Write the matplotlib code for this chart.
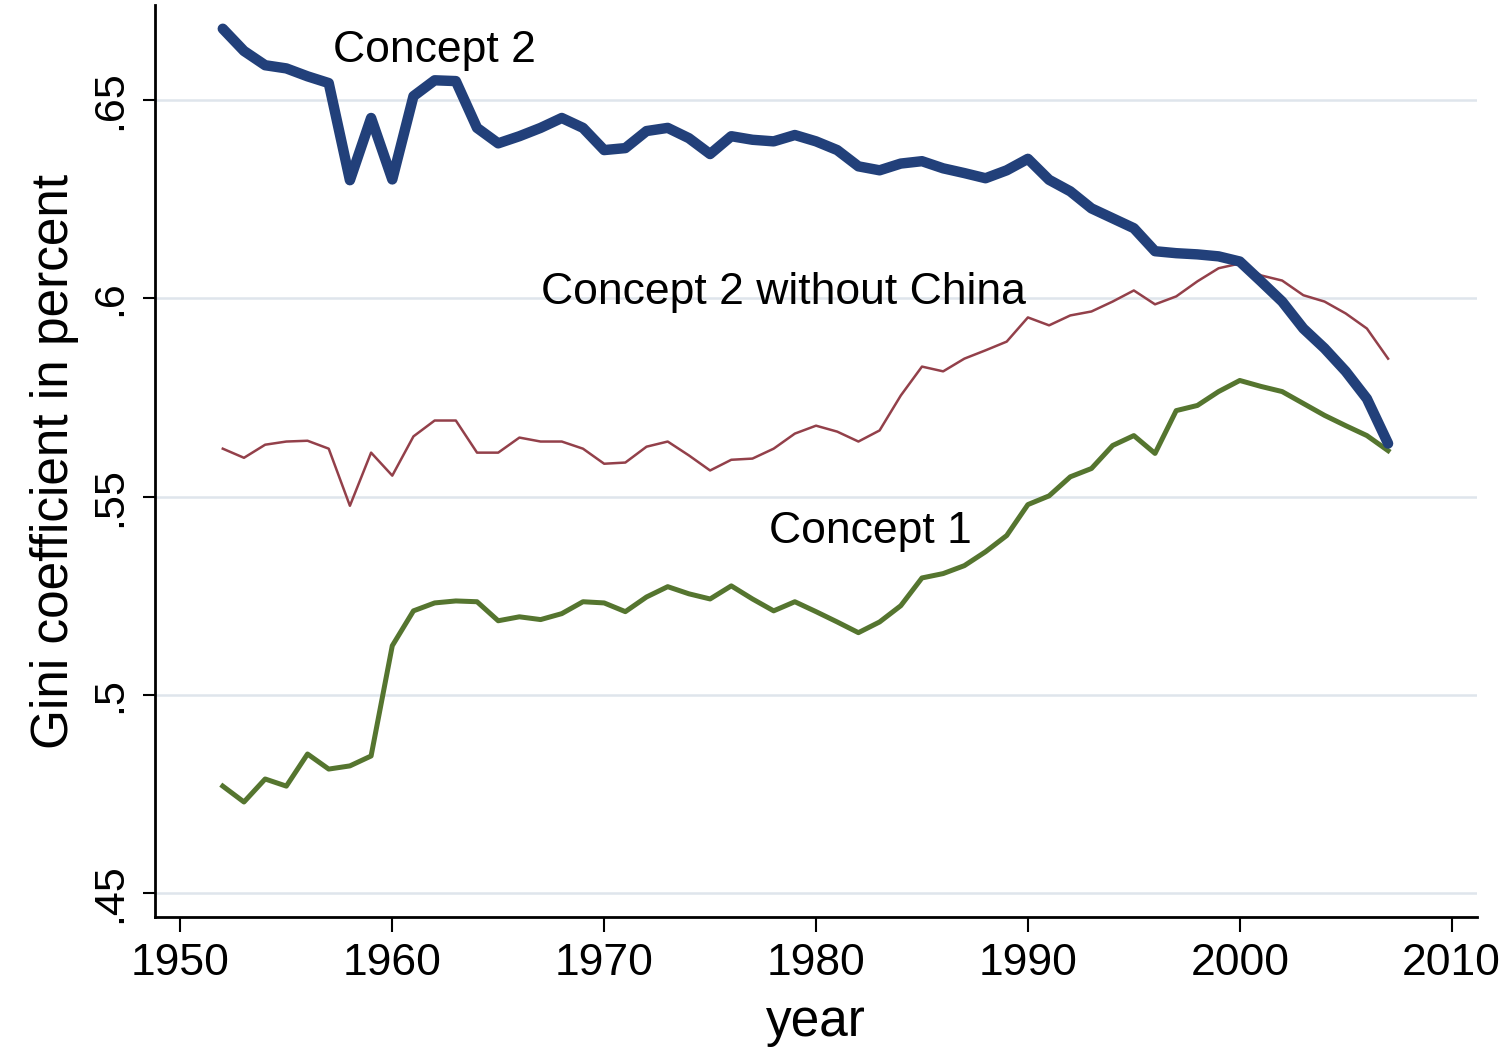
import matplotlib
matplotlib.use("Agg")
import matplotlib.pyplot as plt

years = list(range(1952, 2008))

# Concept 2 (thick navy line)
concept2 = [0.668, 0.6624, 0.6588, 0.658, 0.656, 0.6543, 0.6298, 0.6455, 0.630, 0.651,
            0.655, 0.6548, 0.643, 0.6391, 0.6409, 0.643, 0.6455, 0.643, 0.6374, 0.6379,
            0.6422, 0.643, 0.6404, 0.6364, 0.6409, 0.640, 0.6396, 0.6412, 0.6396, 0.6374,
            0.6333, 0.6323, 0.634, 0.6346, 0.6328, 0.6316, 0.6303, 0.6323, 0.6352, 0.6299,
            0.627, 0.6227, 0.6202, 0.6177, 0.6119, 0.6114, 0.6111, 0.6106, 0.6093, 0.6043,
            0.5992, 0.5924, 0.5874, 0.5816, 0.5747, 0.5634]

# Concept 2 without China (thin maroon line)
concept2_no_china = [0.5621, 0.5598, 0.5631, 0.5639, 0.5641, 0.5621, 0.5477, 0.5611, 0.5553, 0.5652,
                     0.5692, 0.5692, 0.5611, 0.5611, 0.5649, 0.5639, 0.5639, 0.5621, 0.5583, 0.5586,
                     0.5626, 0.5639, 0.5604, 0.5566, 0.5593, 0.5596, 0.5621, 0.5659, 0.5679, 0.5664,
                     0.5639, 0.5667, 0.5755, 0.5828, 0.5816, 0.5848, 0.5869, 0.5891, 0.5952, 0.5932,
                     0.5957, 0.5967, 0.5992, 0.602, 0.5985, 0.6005, 0.6043, 0.6076, 0.6088, 0.6058,
                     0.6045, 0.6008, 0.5992, 0.5962, 0.5924, 0.5848]

# Concept 1 (green line)
concept1 = [0.477, 0.473, 0.4788, 0.477, 0.4851, 0.4813, 0.4821, 0.4846, 0.5124, 0.5212,
            0.5232, 0.5237, 0.5235, 0.5187, 0.5197, 0.519, 0.5205, 0.5235, 0.5232, 0.521,
            0.5247, 0.5273, 0.5255, 0.5242, 0.5275, 0.5242, 0.5212, 0.5235, 0.521, 0.5184,
            0.5157, 0.5184, 0.5225, 0.5295, 0.5306, 0.5326, 0.5361, 0.5402, 0.548, 0.5502,
            0.555, 0.5571, 0.5629, 0.5654, 0.5609, 0.5717, 0.573, 0.5765, 0.5793, 0.5778,
            0.5765, 0.5735, 0.5705, 0.5679, 0.5654, 0.5616]

yticks = [0.45, 0.5, 0.55, 0.6, 0.65]
ytick_labels = [".45", ".5", ".55", ".6", ".65"]
xticks = [1950, 1960, 1970, 1980, 1990, 2000, 2010]

plt.rcParams['font.family'] = ['Liberation Sans', 'DejaVu Sans']

fig = plt.figure(figsize=(15.12, 10.54), dpi=100)
ax = fig.add_axes([0.1025, 0.13, 0.8744, 0.8653])

for y in yticks:
    ax.axhline(y, color='#dfe5ec', linewidth=1.8, zorder=0)

ax.plot(years, concept2_no_china, color='#93404a', linewidth=1.8, zorder=2)
ax.plot(years, concept1, color='#55752f', linewidth=3.6, zorder=2)
ax.plot(years, concept2, color='#22407a', linewidth=7.5, zorder=3,
        solid_joinstyle='round', solid_capstyle='round')

ax.text(1957.2, 0.6624, 'Concept 2', fontsize=32, va='center', ha='left')
ax.text(1967.0, 0.6015, 'Concept 2 without China', fontsize=32, va='center', ha='left')
ax.text(1977.8, 0.5411, 'Concept 1', fontsize=32, va='center', ha='left')

ax.set_xlim(1948.8, 2011.2)
ax.set_ylim(0.444, 0.674)
ax.set_xticks(xticks)
ax.set_yticks(yticks)
ax.set_yticklabels(ytick_labels, rotation=90, va='center')
ax.tick_params(axis='x', labelsize=32, length=11, width=1.5, pad=8)
ax.tick_params(axis='y', labelsize=31, length=9, width=1.5, pad=9)

ax.spines['top'].set_visible(False)
ax.spines['right'].set_visible(False)
ax.spines['left'].set_linewidth(2)
ax.spines['bottom'].set_linewidth(2)

ax.set_xlabel('year', fontsize=37, labelpad=10)
ax.set_ylabel('Gini coefficient in percent', fontsize=37, labelpad=8)

fig.savefig('out.png', dpi=100)
